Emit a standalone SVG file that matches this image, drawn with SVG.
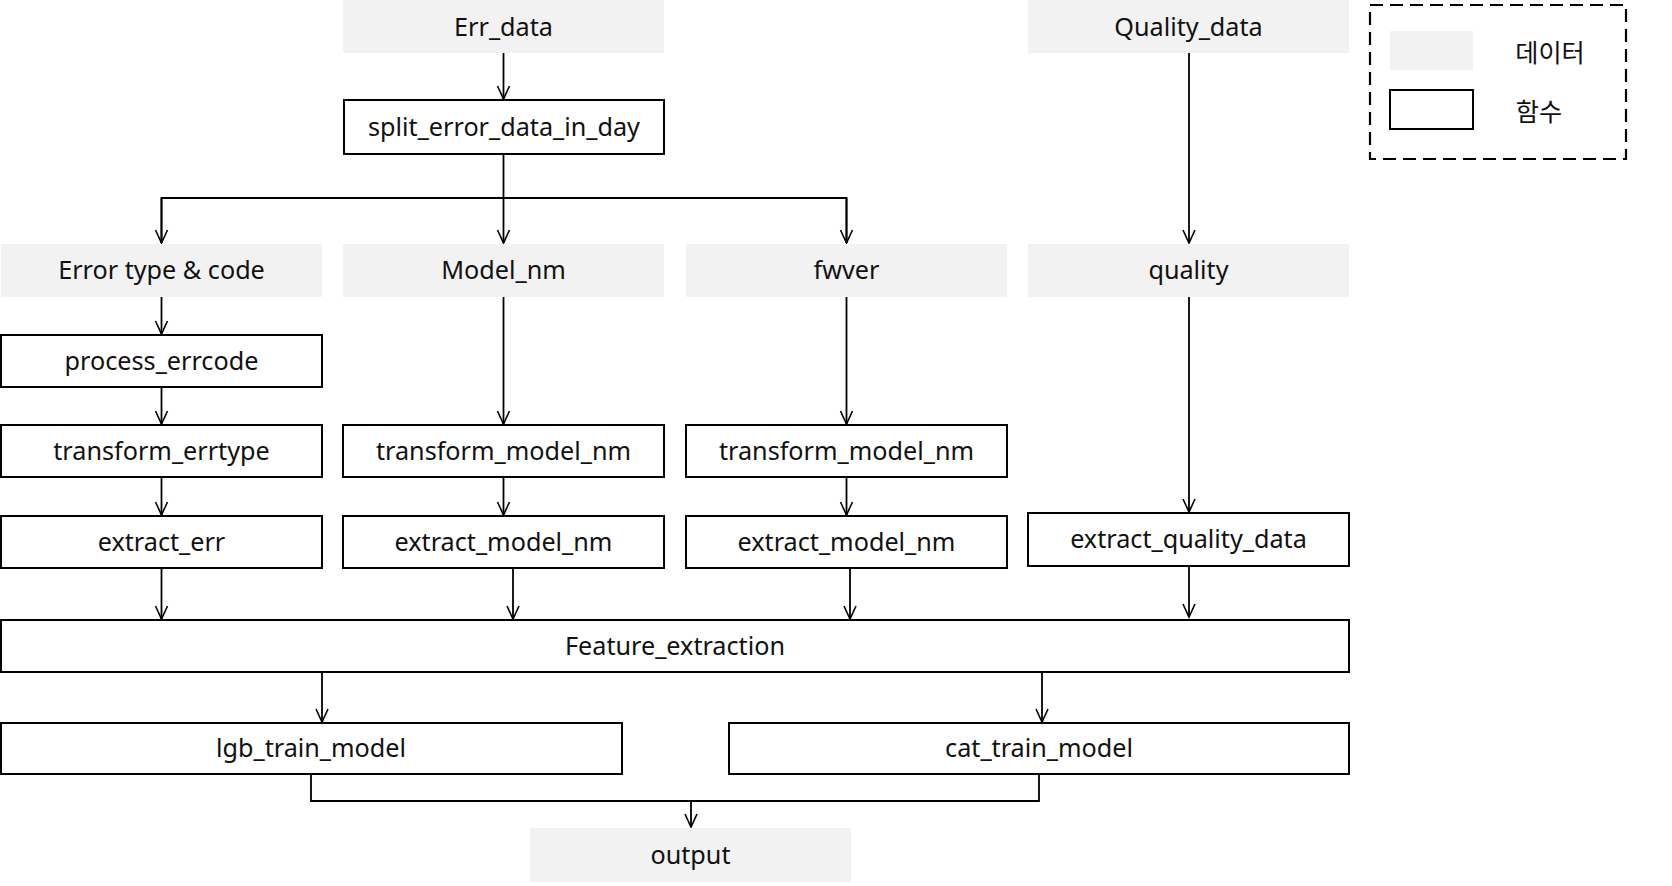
<svg xmlns="http://www.w3.org/2000/svg" width="1672" height="886" viewBox="0 0 1672 886">
<defs>
<marker id="arr" markerWidth="16" markerHeight="16" refX="14" refY="7" orient="auto" markerUnits="userSpaceOnUse" viewBox="0 0 16 14">
<path d="M1,1 L14,7 L1,13" fill="none" stroke="#000" stroke-width="1.6"/>
</marker>
</defs>
<style>
.data{fill:#f2f2f2;stroke:none}
.func{fill:#fff;stroke:#000;stroke-width:2}
.t{font-family:"Noto Sans","Noto Sans CJK KR",sans-serif;font-size:25.2px;fill:#111;text-anchor:middle;dominant-baseline:central}
.c{fill:none;stroke:#000;stroke-width:1.8}
.a{marker-end:url(#arr)}
</style>
<rect width="1672" height="886" fill="#fff"/>
<g id="connectors">
<line class="c a" x1="503.5" y1="53" x2="503.5" y2="99"/>
<line class="c" x1="503.5" y1="154" x2="503.5" y2="198"/>
<polyline class="c" points="161.5,243 161.5,198 846.5,198 846.5,243"/>
<line class="c a" x1="161.5" y1="198" x2="161.5" y2="243"/>
<line class="c a" x1="503.5" y1="198" x2="503.5" y2="243"/>
<line class="c a" x1="846.5" y1="198" x2="846.5" y2="243"/>
<line class="c a" x1="1189" y1="53" x2="1189" y2="243"/>
<line class="c a" x1="161.5" y1="297" x2="161.5" y2="334"/>
<line class="c a" x1="161.5" y1="387" x2="161.5" y2="424"/>
<line class="c a" x1="161.5" y1="477" x2="161.5" y2="515"/>
<line class="c a" x1="503.5" y1="297" x2="503.5" y2="424"/>
<line class="c a" x1="503.5" y1="477" x2="503.5" y2="515"/>
<line class="c a" x1="846.5" y1="297" x2="846.5" y2="424"/>
<line class="c a" x1="846.5" y1="477" x2="846.5" y2="515"/>
<line class="c a" x1="1189" y1="297" x2="1189" y2="512"/>
<line class="c a" x1="161.5" y1="568" x2="161.5" y2="619"/>
<line class="c a" x1="513" y1="568" x2="513" y2="619"/>
<line class="c a" x1="850" y1="568" x2="850" y2="619"/>
<line class="c a" x1="1189" y1="566" x2="1189" y2="617"/>
<line class="c a" x1="322" y1="672" x2="322" y2="722"/>
<line class="c a" x1="1042" y1="672" x2="1042" y2="722"/>
<polyline class="c" points="311,774 311,801 1039,801 1039,774"/>
<line class="c a" x1="691" y1="801" x2="691" y2="827"/>
</g>
<g id="n-err-data"><rect class="data" x="343" y="0" width="321" height="53"/><text class="t" x="503.5" y="26">Err_data</text></g>
<g id="n-split"><rect class="func" x="344" y="100" width="320" height="54"/><text class="t" x="504" y="126">split_error_data_in_day</text></g>
<g id="n-quality-data"><rect class="data" x="1028" y="0" width="321" height="53"/><text class="t" x="1188.5" y="26">Quality_data</text></g>
<g id="n-errtype"><rect class="data" x="1" y="244" width="321" height="53"/><text class="t" x="161.5" y="269">Error type &amp; code</text></g>
<g id="n-model"><rect class="data" x="343" y="244" width="321" height="53"/><text class="t" x="503.5" y="269">Model_nm</text></g>
<g id="n-fwver"><rect class="data" x="686" y="244" width="321" height="53"/><text class="t" x="846.5" y="269">fwver</text></g>
<g id="n-quality"><rect class="data" x="1028" y="244" width="321" height="53"/><text class="t" x="1188.5" y="269">quality</text></g>
<g id="n-process"><rect class="func" x="1" y="335" width="321" height="52"/><text class="t" x="161.5" y="360">process_errcode</text></g>
<g id="n-transform-err"><rect class="func" x="1" y="425" width="321" height="52"/><text class="t" x="161.5" y="450">transform_errtype</text></g>
<g id="n-transform-model1"><rect class="func" x="343" y="425" width="321" height="52"/><text class="t" x="503.5" y="450">transform_model_nm</text></g>
<g id="n-transform-model2"><rect class="func" x="686" y="425" width="321" height="52"/><text class="t" x="846.5" y="450">transform_model_nm</text></g>
<g id="n-extract-err"><rect class="func" x="1" y="516" width="321" height="52"/><text class="t" x="161.5" y="541">extract_err</text></g>
<g id="n-extract-model1"><rect class="func" x="343" y="516" width="321" height="52"/><text class="t" x="503.5" y="541">extract_model_nm</text></g>
<g id="n-extract-model2"><rect class="func" x="686" y="516" width="321" height="52"/><text class="t" x="846.5" y="541">extract_model_nm</text></g>
<g id="n-extract-quality"><rect class="func" x="1028" y="513" width="321" height="53"/><text class="t" x="1188.5" y="538">extract_quality_data</text></g>
<g id="n-feature"><rect class="func" x="1" y="620" width="1348" height="52"/><text class="t" x="675" y="645">Feature_extraction</text></g>
<g id="n-lgb"><rect class="func" x="1" y="723" width="621" height="51"/><text class="t" x="311" y="747">lgb_train_model</text></g>
<g id="n-cat"><rect class="func" x="729" y="723" width="620" height="51"/><text class="t" x="1039" y="747">cat_train_model</text></g>
<g id="n-output"><rect class="data" x="530" y="828" width="321" height="54"/><text class="t" x="690.5" y="854">output</text></g>
<g id="legend">
<rect x="1370" y="5" width="256" height="154" fill="none" stroke="#000" stroke-width="2.2" stroke-dasharray="13,7"/>
<rect class="data" x="1390" y="31" width="83" height="39"/>
<rect class="func" x="1390" y="90" width="83" height="39"/>
<text class="t" x="1550" y="52">데이터</text>
<text class="t" x="1539" y="111">함수</text>
</g>
</svg>
